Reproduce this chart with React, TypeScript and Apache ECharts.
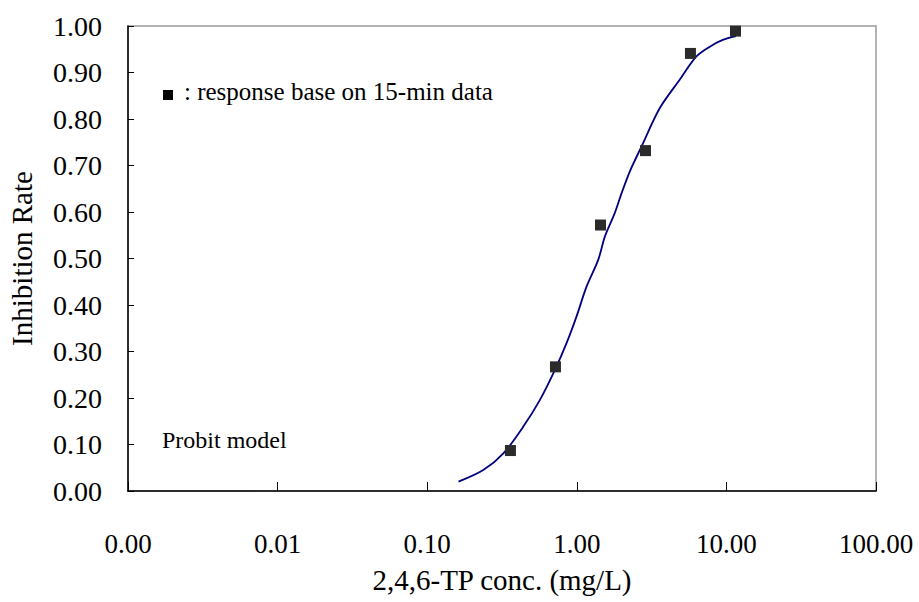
import React, { useEffect, useRef } from "react";
import * as echarts from "echarts";

// Measured response (15-min data)
const doseConc = [0.36, 0.72, 1.44, 2.88, 5.75, 11.5];
const doseRate = [0.087, 0.267, 0.572, 0.732, 0.941, 0.989];

// Probit model curve
const curveConc = [0.162, 0.237, 0.323, 0.438, 0.567, 0.713, 0.854, 0.995, 1.16, 1.39, 1.54, 1.79, 1.99, 2.26, 2.7, 3.58, 4.86, 6.28, 7.7, 9.45, 11.6];
const curveRate = [0.02, 0.045, 0.081, 0.138, 0.196, 0.26, 0.318, 0.375, 0.439, 0.497, 0.547, 0.597, 0.64, 0.687, 0.74, 0.823, 0.884, 0.934, 0.955, 0.97, 0.978];

const xTitle = "2,4,6-TP conc. (mg/L)";
const yTitle = "Inhibition Rate";
const legendText = ": response base on 15-min data";
const modelText = "Probit model";

const FONT = "'Liberation Serif', 'Times New Roman', serif";

export default function App() {
  const ref = useRef<HTMLDivElement>(null);
  useEffect(() => {
    if (!ref.current) return;
    document.body.style.margin = "0";
    const chart = echarts.init(ref.current, null, { renderer: "svg" });
    chart.setOption({
      animation: false,
      backgroundColor: "#ffffff",
      grid: {
        left: 128,
        right: 43,
        top: 26,
        bottom: 111,
        outerBoundsMode: "none",
        containLabel: false,
        show: true,
        borderColor: "#9a9a9a",
        borderWidth: 1.5,
      },
      xAxis: {
        type: "log",
        logBase: 10,
        min: 0.001,
        max: 100,
        splitNumber: 5,
        name: xTitle,
        nameLocation: "middle",
        nameGap: 74,
        nameTextStyle: { fontFamily: FONT, fontSize: 29, color: "#000" },
        axisLine: { show: true, lineStyle: { color: "#000", width: 1.5 } },
        axisTick: { show: true, inside: true, length: 9, lineStyle: { color: "#000" } },
        axisLabel: {
          fontFamily: FONT,
          fontSize: 27,
          color: "#000",
          margin: 39,
          formatter: (v: number) => v.toFixed(2),
        },
        splitLine: { show: false },
      },
      yAxis: {
        type: "value",
        min: 0,
        max: 1,
        interval: 0.1,
        name: yTitle,
        nameLocation: "middle",
        nameGap: 92,
        nameRotate: 90,
        nameTextStyle: { fontFamily: FONT, fontSize: 29, color: "#000" },
        axisLine: { show: true, lineStyle: { color: "#000", width: 1.5 } },
        axisTick: { show: true, inside: true, length: 6, lineStyle: { color: "#000" } },
        axisLabel: {
          fontFamily: FONT,
          fontSize: 28,
          color: "#000",
          margin: 26,
          formatter: (v: number) => v.toFixed(2),
        },
        splitLine: { show: false },
      },
      graphic: [
        {
          type: "rect",
          left: 163,
          top: 90,
          shape: { width: 10, height: 10 },
          style: { fill: "#000" },
        },
        {
          type: "text",
          left: 184,
          top: 79,
          style: { text: legendText, font: `25px ${FONT}`, fill: "#000" },
        },
        {
          type: "text",
          left: 162,
          top: 428,
          style: { text: modelText, font: `24px ${FONT}`, fill: "#000" },
        },
      ],
      series: [
        {
          type: "line",
          data: curveConc.map((c, i) => [c, curveRate[i]]),
          showSymbol: false,
          smooth: 0.3,
          lineStyle: { color: "#000080", width: 1.8 },
          z: 2,
        },
        {
          type: "scatter",
          data: doseConc.map((c, i) => [c, doseRate[i]]),
          symbol: "rect",
          symbolSize: 11,
          itemStyle: { color: "#2b2b2b", opacity: 1 },
          z: 3,
        },
      ],
    });
    return () => chart.dispose();
  }, []);
  return <div ref={ref} style={{ width: 919, height: 602 }} />;
}
